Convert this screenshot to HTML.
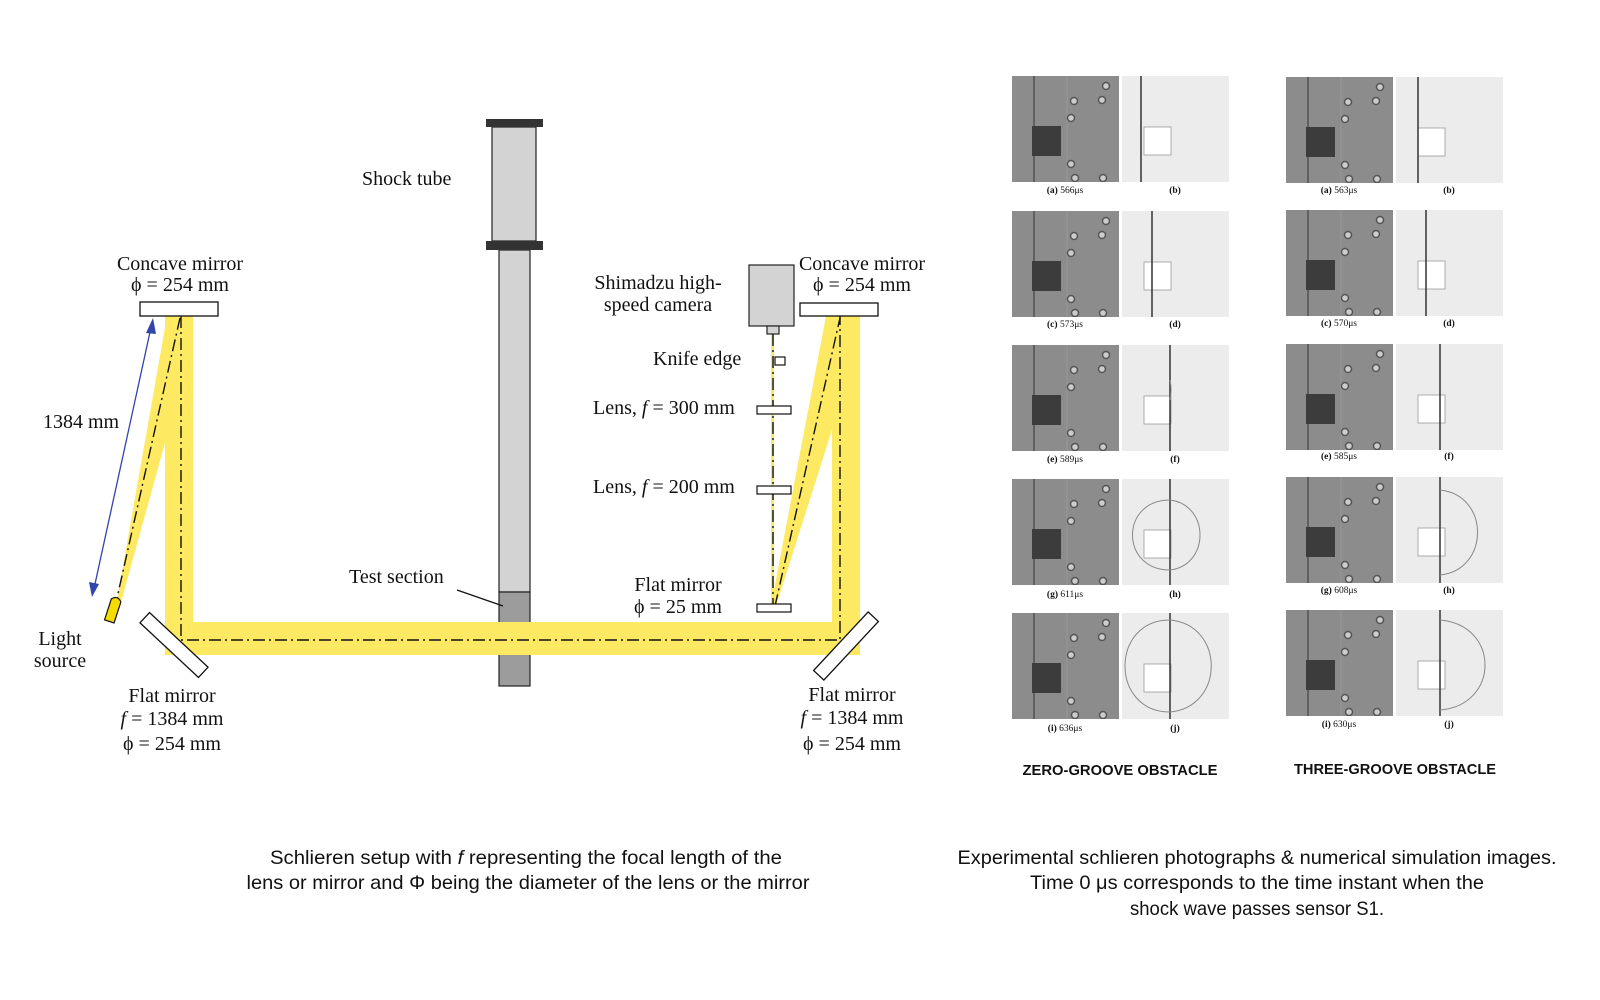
<!DOCTYPE html>
<html><head><meta charset="utf-8"><style>
html,body{margin:0;padding:0;background:#fff}
svg{display:block}
.s{font-family:"Liberation Serif",serif;font-size:20px;fill:#111}
.l{font-family:"Liberation Serif",serif;font-size:9.5px;fill:#111}
.c{font-family:"Liberation Sans",sans-serif;font-size:19.5px;fill:#111}
.h{font-family:"Liberation Sans",sans-serif;font-size:15px;font-weight:bold;fill:#111}
</style></head><body>
<svg width="1600" height="1000" viewBox="0 0 1600 1000" xmlns="http://www.w3.org/2000/svg">
<defs>
<symbol id="ph" viewBox="0 0 107 106" width="107" height="106">
<rect width="107" height="106" fill="#8c8c8c"/>
<line x1="22" y1="0" x2="22" y2="106" stroke="#444" stroke-width="1.2"/>
<line x1="55" y1="0" x2="55" y2="106" stroke="#999" stroke-width="1"/>
<g fill="#ccc" stroke="#555" stroke-width="1.5">
<circle cx="94" cy="10" r="3.5"/><circle cx="90" cy="24" r="3.5"/><circle cx="62" cy="25" r="3.5"/><circle cx="59" cy="42" r="3.5"/>
<circle cx="59" cy="88" r="3.5"/><circle cx="63" cy="102" r="3.5"/><circle cx="91" cy="102" r="3.5"/></g>
<rect x="20" y="50" width="29" height="30" fill="#3c3c3c"/>
</symbol>
<symbol id="sm" viewBox="0 0 107 106" width="107" height="106">
<rect width="107" height="106" fill="#ececec"/>
<rect x="22" y="51" width="27" height="28" fill="#fff" stroke="#999" stroke-width="0.8"/>
</symbol>
</defs>

<rect x="492" y="127" width="44" height="114" fill="#d3d3d3" stroke="#222" stroke-width="1.2"/>
<rect x="499" y="250" width="31" height="342" fill="#d3d3d3" stroke="#222" stroke-width="1.2"/>
<rect x="499" y="592" width="31" height="94" fill="#9c9c9c" stroke="#222" stroke-width="1.2"/>
<rect x="486" y="119" width="57" height="8" fill="#333"/>
<rect x="486" y="241" width="57" height="9" fill="#333"/>

<g fill="#fde962">
<rect x="165" y="622" width="695" height="33"/>
<rect x="165" y="316" width="28" height="339"/>
<rect x="832" y="316" width="28" height="339"/>
<polygon points="167,316 178,316 168,432 120,606 116,606"/>
<polygon points="826,316 840,316 832,430 776,606 771,606"/>
<rect x="771" y="334" width="3" height="272"/>
</g>
<g fill="none" stroke="#111" stroke-width="1.4" stroke-dasharray="12,4,2,4">
<polyline points="181,316 181,640 840,640 840,316"/>
<line x1="180" y1="318" x2="117" y2="598"/>
<line x1="775" y1="606" x2="840" y2="318"/>
<line x1="773" y1="334" x2="773" y2="604"/>
</g>
<rect x="140" y="302" width="78" height="14" fill="#fff" stroke="#111" stroke-width="1.3"/>
<rect x="800" y="303" width="78" height="13" fill="#fff" stroke="#111" stroke-width="1.3"/>
<rect x="-40" y="-7" width="80" height="14" fill="#fff" stroke="#111" stroke-width="1.3" transform="translate(174,645) rotate(43)"/>
<rect x="-40" y="-7" width="80" height="14" fill="#fff" stroke="#111" stroke-width="1.3" transform="translate(846,646) rotate(-47)"/>
<path d="M-5,-10 Q0,-16 5,-10 L5,12 L-5,12 Z" fill="#f5dc00" stroke="#111" stroke-width="1.2" transform="translate(113,610) rotate(18)"/>
<line x1="150" y1="332" x2="95" y2="584" stroke="#3344aa" stroke-width="1.3"/>
<polygon points="153,318 146,333 156,334" fill="#3344aa"/>
<polygon points="92,597 89,582 99,584" fill="#3344aa"/>
<rect x="749" y="265" width="45" height="61" fill="#d3d3d3" stroke="#222" stroke-width="1.2"/>
<rect x="767" y="326" width="12" height="8" fill="#d3d3d3" stroke="#222" stroke-width="1.2"/>
<rect x="775" y="357" width="10" height="8" fill="#fff" stroke="#111" stroke-width="1.2"/>
<rect x="757" y="406" width="34" height="8" fill="#fff" stroke="#111" stroke-width="1.2"/>
<rect x="757" y="486" width="34" height="8" fill="#fff" stroke="#111" stroke-width="1.2"/>
<rect x="757" y="604" width="34" height="8" fill="#fff" stroke="#111" stroke-width="1.2"/>
<line x1="457" y1="590" x2="503" y2="606" stroke="#111" stroke-width="1.2"/>

<text class="s" x="362" y="185">Shock tube</text>
<text class="s" x="180" y="270" text-anchor="middle">Concave mirror</text>
<text class="s" x="180" y="291" text-anchor="middle">ϕ = 254 mm</text>
<text class="s" x="43" y="428">1384 mm</text>
<text class="s" x="60" y="645" text-anchor="middle">Light</text>
<text class="s" x="60" y="667" text-anchor="middle">source</text>
<text class="s" x="172" y="702" text-anchor="middle">Flat mirror</text>
<text class="s" x="172" y="725" text-anchor="middle"><tspan font-style="italic">f</tspan> = 1384 mm</text>
<text class="s" x="172" y="750" text-anchor="middle">ϕ = 254 mm</text>
<text class="s" x="862" y="270" text-anchor="middle">Concave mirror</text>
<text class="s" x="862" y="291" text-anchor="middle">ϕ = 254 mm</text>
<text class="s" x="658" y="289" text-anchor="middle">Shimadzu high-</text>
<text class="s" x="658" y="311" text-anchor="middle">speed camera</text>
<text class="s" x="653" y="365">Knife edge</text>
<text class="s" x="593" y="414">Lens, <tspan font-style="italic">f</tspan> = 300 mm</text>
<text class="s" x="593" y="493">Lens, <tspan font-style="italic">f</tspan> = 200 mm</text>
<text class="s" x="349" y="583">Test section</text>
<text class="s" x="678" y="591" text-anchor="middle">Flat mirror</text>
<text class="s" x="678" y="613" text-anchor="middle">ϕ = 25 mm</text>
<text class="s" x="852" y="701" text-anchor="middle">Flat mirror</text>
<text class="s" x="852" y="724" text-anchor="middle"><tspan font-style="italic">f</tspan> = 1384 mm</text>
<text class="s" x="852" y="750" text-anchor="middle">ϕ = 254 mm</text>

<g>
<use href="#ph" x="1012" y="76"/><use href="#sm" x="1122" y="76"/>
<use href="#ph" x="1012" y="211"/><use href="#sm" x="1122" y="211"/>
<use href="#ph" x="1012" y="345"/><use href="#sm" x="1122" y="345"/>
<use href="#ph" x="1012" y="479"/><use href="#sm" x="1122" y="479"/>
<use href="#ph" x="1012" y="613"/><use href="#sm" x="1122" y="613"/>
<use href="#ph" x="1286" y="77"/><use href="#sm" x="1396" y="77"/>
<use href="#ph" x="1286" y="210"/><use href="#sm" x="1396" y="210"/>
<use href="#ph" x="1286" y="344"/><use href="#sm" x="1396" y="344"/>
<use href="#ph" x="1286" y="477"/><use href="#sm" x="1396" y="477"/>
<use href="#ph" x="1286" y="610"/><use href="#sm" x="1396" y="610"/>
</g>
<g stroke="#333" stroke-width="1.5">
<line x1="1141" y1="76" x2="1141" y2="182"/><line x1="1152" y1="211" x2="1152" y2="317"/>
<line x1="1170" y1="345" x2="1170" y2="451"/><line x1="1170" y1="479" x2="1170" y2="585"/><line x1="1170" y1="613" x2="1170" y2="719"/>
<line x1="1418" y1="77" x2="1418" y2="183"/><line x1="1426" y1="210" x2="1426" y2="316"/>
<line x1="1440" y1="344" x2="1440" y2="450"/><line x1="1440" y1="477" x2="1440" y2="583"/><line x1="1440" y1="610" x2="1440" y2="716"/>
</g>
<g fill="none" stroke="#888" stroke-width="1">
<path d="M1170,400 A40,45 0 0 0 1170,380"/>
<path d="M1170,500 C1120,500 1120,570 1170,570"/><path d="M1170,500 C1210,505 1210,565 1170,570"/>
<path d="M1170,620 C1110,620 1110,712 1170,712"/><path d="M1170,620 C1225,625 1225,707 1170,712"/>
<path d="M1440,490 C1490,495 1490,570 1440,575"/><path d="M1440,620 C1500,625 1500,705 1440,710"/>
</g>
<g class="l" text-anchor="middle">
<text x="1065" y="193"><tspan font-weight="bold">(a)</tspan> 566μs</text><text x="1175" y="193" font-weight="bold">(b)</text>
<text x="1065" y="327"><tspan font-weight="bold">(c)</tspan> 573μs</text><text x="1175" y="327" font-weight="bold">(d)</text>
<text x="1065" y="462"><tspan font-weight="bold">(e)</tspan> 589μs</text><text x="1175" y="462" font-weight="bold">(f)</text>
<text x="1065" y="597"><tspan font-weight="bold">(g)</tspan> 611μs</text><text x="1175" y="597" font-weight="bold">(h)</text>
<text x="1065" y="731"><tspan font-weight="bold">(i)</tspan> 636μs</text><text x="1175" y="731" font-weight="bold">(j)</text>
<text x="1339" y="193"><tspan font-weight="bold">(a)</tspan> 563μs</text><text x="1449" y="193" font-weight="bold">(b)</text>
<text x="1339" y="326"><tspan font-weight="bold">(c)</tspan> 570μs</text><text x="1449" y="326" font-weight="bold">(d)</text>
<text x="1339" y="459"><tspan font-weight="bold">(e)</tspan> 585μs</text><text x="1449" y="459" font-weight="bold">(f)</text>
<text x="1339" y="593"><tspan font-weight="bold">(g)</tspan> 608μs</text><text x="1449" y="593" font-weight="bold">(h)</text>
<text x="1339" y="727"><tspan font-weight="bold">(i)</tspan> 630μs</text><text x="1449" y="727" font-weight="bold">(j)</text>
</g>
<text class="h" x="1120" y="775" text-anchor="middle" textLength="195" lengthAdjust="spacingAndGlyphs">ZERO-GROOVE OBSTACLE</text>
<text class="h" x="1395" y="774" text-anchor="middle" textLength="202" lengthAdjust="spacingAndGlyphs">THREE-GROOVE OBSTACLE</text>

<text class="c" x="526" y="864" text-anchor="middle" textLength="512" lengthAdjust="spacingAndGlyphs">Schlieren setup with <tspan font-style="italic">f</tspan> representing the focal length of the</text>
<text class="c" x="528" y="889" text-anchor="middle" textLength="563" lengthAdjust="spacingAndGlyphs">lens or mirror and Φ being the diameter of the lens or the mirror</text>
<text class="c" x="1257" y="864" text-anchor="middle" textLength="599" lengthAdjust="spacingAndGlyphs">Experimental schlieren photographs &amp; numerical simulation images.</text>
<text class="c" x="1257" y="889" text-anchor="middle" textLength="454" lengthAdjust="spacingAndGlyphs">Time 0 μs corresponds to the time instant when the</text>
<text class="c" x="1257" y="915" text-anchor="middle" textLength="254" lengthAdjust="spacingAndGlyphs">shock wave passes sensor S1.</text>
</svg>
</body></html>
